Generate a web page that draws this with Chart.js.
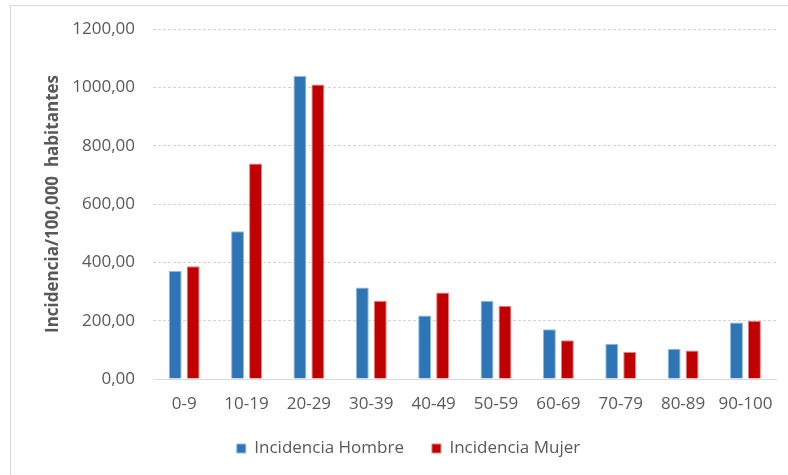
<!DOCTYPE html>
<html>
<head>
<meta charset="utf-8">
<script src="https://cdn.jsdelivr.net/npm/chart.js@4.4.1/dist/chart.umd.min.js"></script>
<style>
  html, body { margin: 0; padding: 0; background: #ffffff; }
  #wrap { position: relative; width: 788px; height: 475px; }
  #frame {
    position: absolute; left: 10px; top: 5px; right: 0; bottom: 0;
    border-top: 1px solid #d9d9d9; border-left: 1px solid #d9d9d9;
  }
  canvas { position: absolute; left: 0; top: 0; }
</style>
</head>
<body>
<div id="wrap">
  <div id="frame"></div>
  <canvas id="chart" width="788" height="475"></canvas>
</div>
<script>
// Age groups and incidence per 100,000 inhabitants
const ageGroups = ['0-9', '10-19', '20-29', '30-39', '40-49', '50-59', '60-69', '70-79', '80-89', '90-100'];
const incidenciaHombre = [370, 507, 1039, 314, 218, 268, 171, 121, 104, 194];
const incidenciaMujer = [387, 739, 1010, 268, 297, 251, 133, 93, 98, 200];
const seriesNames = ['Incidencia Hombre', 'Incidencia Mujer'];
const yAxisTitle = 'Incidencia/100,000  habitantes';
const yMin = 0, yMax = 1200, yStep = 200;

const textColor = '#595959';
const fontFamily = '"Open Sans", "Liberation Sans", sans-serif';

// Spanish-style decimal comma: 1200 -> "1200,00"
const fmt = v => v.toFixed(2).replace('.', ',');

new Chart(document.getElementById('chart'), {
  type: 'bar',
  data: {
    labels: ageGroups,
    datasets: [
      {
        label: seriesNames[0],
        data: incidenciaHombre,
        backgroundColor: '#2e75b6',
        borderColor: '#8fb9e0',
        borderWidth: 1,
        categoryPercentage: 0.576,
        barPercentage: 0.72
      },
      {
        label: seriesNames[1],
        data: incidenciaMujer,
        backgroundColor: '#c00000',
        borderColor: '#e58080',
        borderWidth: 1,
        categoryPercentage: 0.576,
        barPercentage: 0.72
      }
    ]
  },
  options: {
    responsive: false,
    animation: false,
    devicePixelRatio: 1,
    layout: { padding: { left: 39, right: 10, top: 29, bottom: 8 } },
    plugins: {
      tooltip: { enabled: false },
      legend: {
        position: 'bottom',
        labels: {
          color: textColor,
          font: { family: fontFamily, size: 17 },
          boxWidth: 9,
          boxHeight: 9,
          padding: 28
        }
      }
    },
    scales: {
      x: {
        grid: { display: false, drawTicks: false },
        border: { display: true, color: '#d9d9d9', width: 1 },
        ticks: {
          color: textColor,
          font: { family: fontFamily, size: 17 },
          padding: 15,
          maxRotation: 0,
          autoSkip: false
        },
        afterFit: s => { s.height = 33; }
      },
      y: {
        min: yMin,
        max: yMax,
        grid: { color: '#d4d4d4', drawTicks: false, lineWidth: 1 },
        border: { display: false, dash: [3, 2] },
        ticks: {
          stepSize: yStep,
          color: textColor,
          font: { family: fontFamily, size: 17 },
          padding: 18,
          callback: v => fmt(v)
        },
        title: {
          display: true,
          text: yAxisTitle,
          color: textColor,
          font: { family: fontFamily, size: 17, weight: 'bold' },
          padding: { top: 4, bottom: 4 }
        },
        afterFit: s => { s.width = 114; }
      }
    }
  }
});
</script>
</body>
</html>
